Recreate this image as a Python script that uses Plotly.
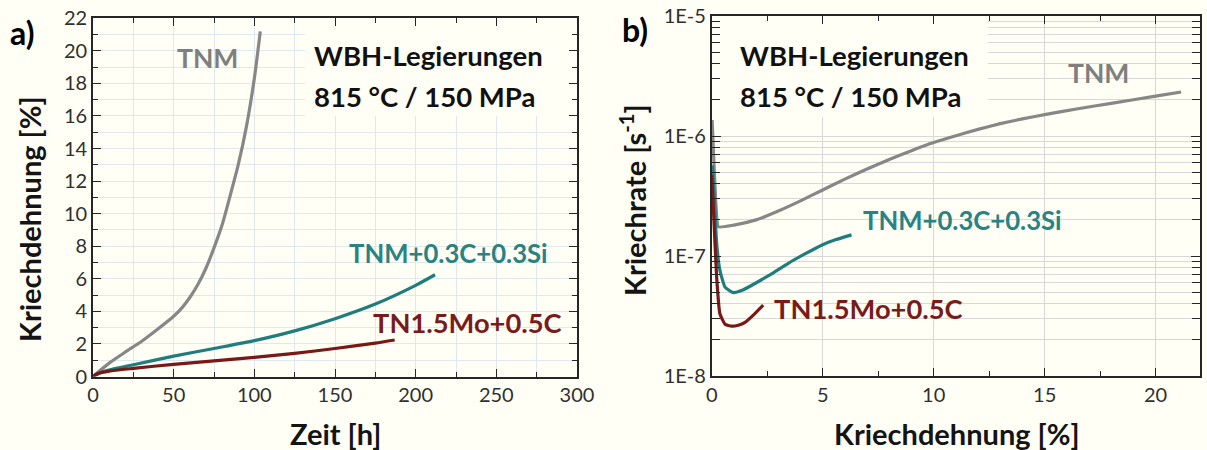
import plotly.graph_objects as go

# ---------------- data ----------------
# panel a) creep strain [%] vs time [h]
tnm_t = [0, 10, 20, 30, 40, 50, 55, 60, 65, 70, 75, 80, 85, 90, 95, 100, 103.7]
tnm_s = [0, 0.82, 1.5, 2.15, 2.9, 3.7, 4.2, 4.85, 5.65, 6.65, 7.9, 9.3, 11.1, 13.0, 15.3, 18.3, 21.2]
csi_t = [0, 5, 10, 25, 50, 75, 100, 125, 150, 175, 200, 212]
csi_s = [0, 0.25, 0.4, 0.72, 1.25, 1.72, 2.2, 2.8, 3.55, 4.45, 5.6, 6.25]
moc_t = [0, 3, 10, 25, 50, 75, 100, 125, 150, 175, 187]
moc_s = [0, 0.18, 0.33, 0.5, 0.75, 0.96, 1.17, 1.42, 1.72, 2.05, 2.24]

# panel b) creep rate [1/s] vs creep strain [%]
tnm_e = [0.02, 0.1, 0.2, 0.3, 1, 2, 3, 4, 5, 6, 7, 8, 9, 10, 11, 12, 13, 14, 15,
         16.5, 18, 20, 21.15]
tnm_r = [1.36e-6, 6e-7, 2.5e-7, 1.75e-7, 1.81e-7, 2.0e-7, 2.37e-7, 2.88e-7, 3.55e-7,
         4.37e-7, 5.31e-7, 6.38e-7, 7.55e-7, 8.81e-7, 1.005e-6, 1.135e-6, 1.268e-6,
         1.39e-6, 1.507e-6, 1.687e-6, 1.871e-6, 2.148e-6, 2.328e-6]
csi_e = [0.03, 0.12, 0.22, 0.37, 0.6, 0.97, 1.4, 1.95, 2.7, 3.45, 4.2, 4.95, 5.6, 6.3]
csi_r = [5.7e-7, 3e-7, 1.3e-7, 7.6e-8, 5.5e-8, 4.95e-8, 5.2e-8, 5.9e-8, 7.1e-8,
         8.7e-8, 1.04e-7, 1.23e-7, 1.37e-7, 1.5e-7]
moc_e = [0.0, 0.1, 0.22, 0.37, 0.6, 0.9, 1.2, 1.5, 1.9, 2.32]
moc_r = [4.73e-7, 2e-7, 6.8e-8, 3.3e-8, 2.7e-8, 2.6e-8, 2.65e-8, 2.8e-8, 3.25e-8, 3.9e-8]

labels = ["TNM", "TNM+0.3C+0.3Si", "TN1.5Mo+0.5C"]
left_xticks = [0, 50, 100, 150, 200, 250, 300]
left_yticks = list(range(0, 23, 2))
right_xticks = [0, 5, 10, 15, 20]
right_yvals = [1e-8, 1e-7, 1e-6, 1e-5]
right_ytext = ["1E-8", "1E-7", "1E-6", "1E-5"]

# ---------------- style ----------------
W, H = 1207, 450
FONT = "Lato"
BG = "#fffff5"
GREY, TEAL, RED = "#878787", "#1f7d7d", "#7a1717"
GREY_T, TEAL_T, RED_T = "#7f7f7f", "#2a8383", "#7a1b1b"
GRID_A = "#dfe7ef"
GRID_B = "#d8d8d8"
AX = "#262626"

def px(x):
    return x / W

def py(y):
    return 1 - y / H

fig = go.Figure()
line_w = 3.2
for xs, ys, c in [(tnm_t, tnm_s, GREY), (csi_t, csi_s, TEAL), (moc_t, moc_s, RED)]:
    fig.add_trace(go.Scatter(x=xs, y=ys, mode="lines",
                             line=dict(color=c, width=line_w, shape="spline", smoothing=0.6),
                             xaxis="x", yaxis="y", hoverinfo="skip"))
for xs, ys, c in [(tnm_e, tnm_r, GREY), (csi_e, csi_r, TEAL), (moc_e, moc_r, RED)]:
    fig.add_trace(go.Scatter(x=xs, y=ys, mode="lines",
                             line=dict(color=c, width=line_w, shape="spline", smoothing=0.4),
                             xaxis="x2", yaxis="y2", hoverinfo="skip"))

tickfont = dict(family=FONT, size=20, color="#303030")

common = dict(showline=True, linecolor=AX, linewidth=1.6, mirror="ticks", ticks="inside",
              tickcolor=AX, tickwidth=1.3, tickfont=tickfont, zeroline=False, automargin=False)

fig.update_layout(
    width=W, height=H,
    margin=dict(l=0, r=0, t=0, b=0),
    paper_bgcolor=BG, plot_bgcolor=BG,
    showlegend=False,
    template="none",
    xaxis=dict(domain=[px(93), px(577)], range=[0, 300], anchor="y",
               tickvals=left_xticks, ticklen=8, showgrid=True, gridcolor=GRID_A, gridwidth=1,
               minor=dict(dtick=25, tick0=0, ticklen=5, ticks="inside", tickcolor=AX, showgrid=True, gridcolor=GRID_A),
               **common),
    yaxis=dict(domain=[1 - 376.5 / H, 1 - 18.3 / H], range=[0, 22], anchor="x",
               tickvals=left_yticks, ticklen=8, showgrid=True, gridcolor=GRID_A, gridwidth=1,
               minor=dict(dtick=1, tick0=0, ticklen=5, ticks="inside", tickcolor=AX, showgrid=True, gridcolor=GRID_A),
               **common),
    xaxis2=dict(domain=[px(711.7), px(1200)], range=[0, 22], anchor="y2",
                tickvals=right_xticks, ticklen=8, showgrid=True, gridcolor=GRID_B, gridwidth=1,
                minor=dict(dtick=2.5, tick0=0, ticklen=5, ticks="inside", tickcolor=AX, showgrid=False),
                **common),
    yaxis2=dict(domain=[1 - 376 / H, 1 - 16 / H], type="log", range=[-8, -5], anchor="x2",
                tickvals=right_yvals, ticktext=right_ytext, ticklen=9, showgrid=True, gridcolor=GRID_B, gridwidth=1,
                minor=dict(tickmode="array",
                           tickvals=[m * 10.0 ** e for e in range(-8, -5) for m in range(2, 10)],
                           ticklen=8, ticks="inside", tickcolor=AX, showgrid=True, gridcolor=GRID_B),
                **common),
)

# boxes behind the heading texts (hide grid lines, stay below the curves)
fig.add_shape(type="rect", xref="x", yref="y",
              x0=131.4, x1=300, y0=16.0, y1=22,
              fillcolor=BG, line=dict(width=0), layer="between")
fig.add_shape(type="rect", xref="x2", yref="y2",
              x0=0, x1=12.44, y0=1.44e-6, y1=1e-5,
              fillcolor=BG, line=dict(width=0), layer="between")

def ann(text, x, y, size, color, xanchor="left", bold=True, angle=0):
    fig.add_annotation(text=text, x=px(x), y=py(y), xref="paper", yref="paper",
                       xanchor=xanchor, yanchor="middle", showarrow=False, textangle=angle,
                       font=dict(family=FONT, size=size, color=color, weight="bold" if bold else "normal"))

# panel labels
ann("a)", 22, 32, 32, "#000000", xanchor="center")
ann("b)", 635, 30, 32, "#000000", xanchor="center")

# axis titles
ann("Kriechdehnung [%]", 29, 219, 29, "#141414", xanchor="center", angle=-90)
ann("Zeit [h]", 335, 433, 29, "#141414", xanchor="center")
ann("Kriechrate [s<sup>-1</sup>]", 633, 200, 29, "#141414", xanchor="center", angle=-90)
ann("Kriechdehnung [%]", 957, 433, 29, "#141414", xanchor="center")

# headings
ann("WBH-Legierungen", 312, 55, 27.5, "#111111")
ann("815 °C / 150 MPa", 312, 97, 27.5, "#111111")
ann("WBH-Legierungen", 738, 55, 27.5, "#111111")
ann("815 °C / 150 MPa", 738, 97, 27.5, "#111111")

# curve labels panel a
ann(labels[0], 207, 58, 26.5, GREY_T, xanchor="center")
ann(labels[1], 347, 253, 25.7, TEAL_T)
ann(labels[2], 371, 322, 27.3, RED_T)
# curve labels panel b
ann(labels[0], 1098, 73, 26.5, GREY_T, xanchor="center")
ann(labels[1], 861, 220, 25.7, TEAL_T)
ann(labels[2], 772, 308, 27.3, RED_T)

fig.write_html("out.html")
